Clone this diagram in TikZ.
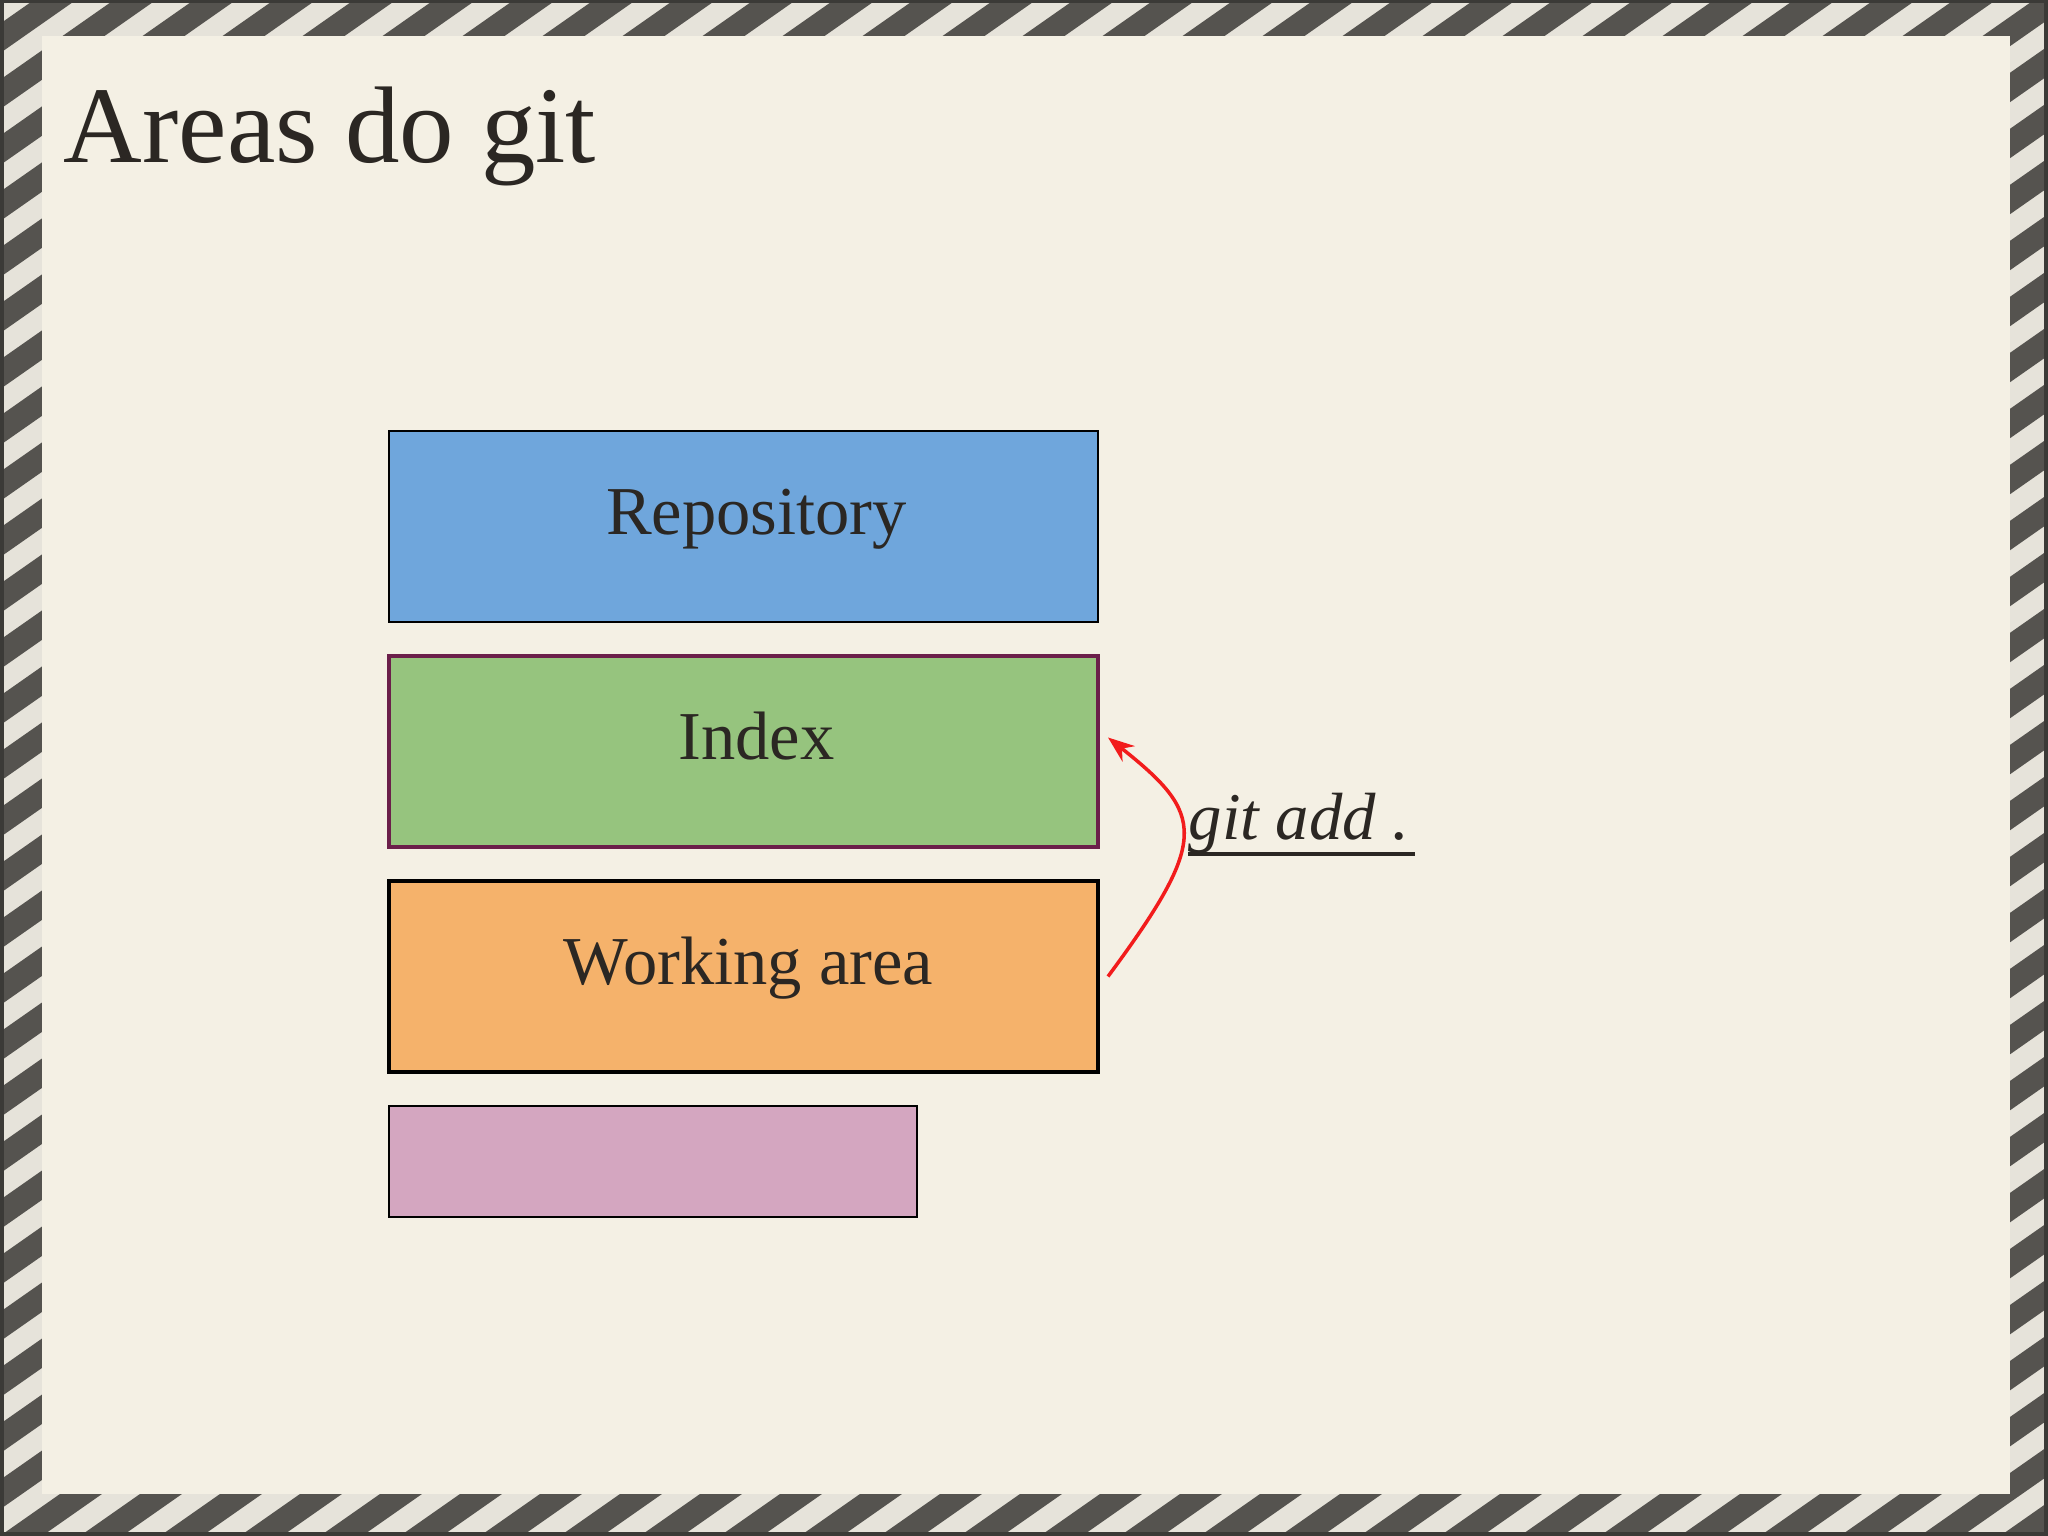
\documentclass[tikz,border=0pt]{standalone}
\usepackage{fontspec}
\setmainfont{Liberation Serif}
\usetikzlibrary{positioning,arrows.meta}
\definecolor{paper}{HTML}{F4F0E4}
\definecolor{bandlight}{HTML}{E6E3DA}
\definecolor{banddark}{HTML}{55534F}
\definecolor{ink}{HTML}{2B2723}
\definecolor{repoblue}{HTML}{6FA6DC}
\definecolor{idxgreen}{HTML}{96C47E}
\definecolor{idxborder}{HTML}{6B1F4A}
\definecolor{waorange}{HTML}{F5B26B}
\definecolor{stashpink}{HTML}{D4A6C0}
\definecolor{addred}{HTML}{F21C1C}
\begin{document}
\begin{tikzpicture}[>=Stealth,
    area/.style={draw=black, line width=0.6pt, minimum width=7.09cm, minimum height=1.91cm,
      inner sep=0pt, outer sep=0pt, text=ink, font=\fontsize{19.5}{23}\selectfont,
      text height=0.5cm, text depth=0.34cm}]
  \useasboundingbox (0,0) rectangle (20.48,15.36);

  % Striped frame, then the paper
  \begin{scope}
    \clip (0,0) rectangle (20.48,15.36);
    \fill[bandlight] (0,0) rectangle (20.48,15.36);
    \foreach \i in {-28,...,26}
      \fill[banddark] (\i*0.8,0) -- ++(0.42,0) -- ++(21.94,15.36) -- ++(-0.42,0) -- cycle;
  \end{scope}
  \fill[paper] (0.42,0.42) rectangle (20.10,15.00);
  \draw[banddark!70!black, line width=2pt] (0,0) rectangle (20.48,15.36);

  % Title
  \node[anchor=base west, inner sep=0pt, text=ink, font=\fontsize{31}{37}\selectfont]
    (title) at (0.63,13.73) {Areas do git};

  % The areas
  \node[area, fill=repoblue] (repo) at (7.435,10.095) {\hspace{0.26cm}Repository};
  \node[area, fill=idxgreen, draw=idxborder, line width=1.1pt, below=0.34cm of repo] (idx) {\hspace{0.26cm}Index};
  \node[area, fill=waorange, line width=1.3pt, below=0.34cm of idx] (wa) {\hspace{0.1cm}Working area};
  \node[area, fill=stashpink, minimum width=5.28cm, minimum height=1.11cm,
    below=0.34cm of wa.south west, anchor=north west] (stash) {};

  % git add
  \draw[->, addred, line width=1pt] ([xshift=0.1cm]wa.east)
    .. controls +(1.02,1.38) and +(0.97,-0.77) .. ([xshift=0.1cm,yshift=0.14cm]idx.east);
  \node[anchor=base west, inner sep=0pt, text=ink, font=\fontsize{19}{23}\selectfont\itshape]
    (cmd) at (11.88,6.96) {git add .};
  \draw[ink, line width=1.1pt] ([yshift=-0.14cm]cmd.base west) -- ([xshift=0.05cm,yshift=-0.14cm]cmd.base east);
\end{tikzpicture}
\end{document}
